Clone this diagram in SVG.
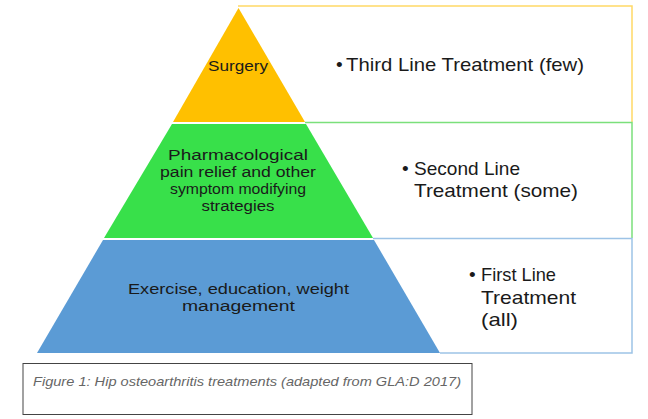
<svg xmlns="http://www.w3.org/2000/svg" width="648" height="419" viewBox="0 0 648 419">
<style>
.t{font-family:"Liberation Sans",Arial,sans-serif;fill:#1a1a1a}
.c{text-anchor:middle;font-size:15.5px}
.r{font-size:19px}
.box{fill:none;stroke-width:1.5}
</style>
<rect width="648" height="419" fill="#fff"/>
<g id="connectors">
<polyline class="box" stroke="#FFD966" points="238,6 632,6 632,122"/>
<polyline class="box" stroke="#7BE07B" points="305,122.5 632,122.5 632,238"/>
<polyline class="box" stroke="#9DC3E6" points="373,238.5 632,238.5 632,353 440,353"/>
</g>
<g id="tier-surgery">
<polygon points="238.5,8 305,122 173,122" fill="#FFC000"/>
<text class="t c" x="238" y="71" textLength="60" lengthAdjust="spacingAndGlyphs">Surgery</text>
</g>
<g id="tier-pharma">
<polygon points="172,124 306,124 373,238 104,238" fill="#38E04A"/>
<text class="t c" x="238" y="160" textLength="140" lengthAdjust="spacingAndGlyphs">Pharmacological</text>
<text class="t c" x="238" y="177" textLength="156" lengthAdjust="spacingAndGlyphs">pain relief and other</text>
<text class="t c" x="238" y="194" textLength="136" lengthAdjust="spacingAndGlyphs">symptom modifying</text>
<text class="t c" x="238" y="211" textLength="73" lengthAdjust="spacingAndGlyphs">strategies</text>
</g>
<g id="tier-exercise">
<polygon points="103,240 374,240 440,353 37,353" fill="#5B9BD5"/>
<text class="t c" x="238.5" y="294" textLength="221" lengthAdjust="spacingAndGlyphs">Exercise, education, weight</text>
<text class="t c" x="238.5" y="311" textLength="113" lengthAdjust="spacingAndGlyphs">management</text>
</g>
<g id="label-third">
<text class="t r" x="336" y="71">•</text>
<text class="t r" x="346" y="71" textLength="238" lengthAdjust="spacingAndGlyphs">Third Line Treatment (few)</text>
</g>
<g id="label-second">
<text class="t r" x="402" y="175">•</text>
<text class="t r" x="414" y="175" textLength="106" lengthAdjust="spacingAndGlyphs">Second Line</text>
<text class="t r" x="414" y="197" textLength="164" lengthAdjust="spacingAndGlyphs">Treatment (some)</text>
</g>
<g id="label-first">
<text class="t r" x="469" y="281">•</text>
<text class="t r" x="481" y="281" textLength="75" lengthAdjust="spacingAndGlyphs">First Line</text>
<text class="t r" x="481" y="304" textLength="95" lengthAdjust="spacingAndGlyphs">Treatment</text>
<text class="t r" x="481" y="326" textLength="37" lengthAdjust="spacingAndGlyphs">(all)</text>
</g>
<g id="caption">
<rect x="23" y="363.5" width="449" height="51" fill="#fff" stroke="#444" stroke-width="1"/>
<text x="33" y="386" font-family="'Liberation Sans',Arial,sans-serif" font-style="italic" font-size="13.5px" fill="#666" textLength="428" lengthAdjust="spacingAndGlyphs">Figure 1: Hip osteoarthritis treatments (adapted from GLA:D 2017)</text>
</g>
</svg>
